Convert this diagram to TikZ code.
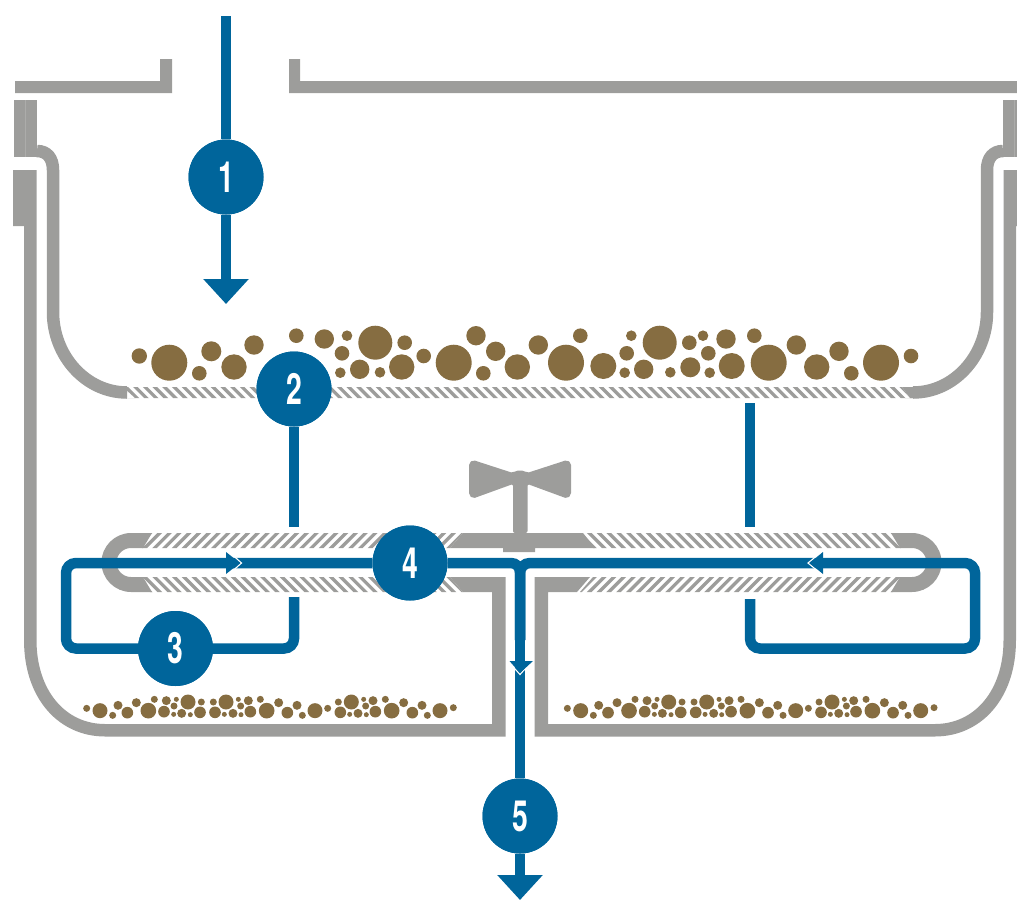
\documentclass[tikz,border=0pt]{standalone}
\usepackage{fontspec}
\usepackage{graphicx}
\setmainfont{TeX Gyre Heros}
\usetikzlibrary{arrows.meta}
\definecolor{flowblue}{HTML}{00659B}
\definecolor{shellgray}{HTML}{9D9D9B}
\definecolor{grainbrown}{HTML}{866D41}
\tikzset{
  shell/.style={fill=shellgray,draw=none},
  shellline/.style={draw=shellgray,line width=12.5pt,line cap=butt},
  stripe/.style={draw=shellgray,line width=3.3pt},
  flow/.style={draw=flowblue,line width=10.5pt,line cap=butt},
  bigtip/.style={-{Triangle[length=25pt,width=44pt]}},
  numdot/.style={circle,fill=flowblue,text=white,minimum size=75pt,inner sep=0pt,
    font=\fontsize{43}{43}\selectfont\bfseries},
  grain/.style={fill=grainbrown,draw=none},
  chevron/.style={draw=white,line width=1.1pt,line cap=butt,line join=miter},
  headfill/.style={fill=flowblue,draw=none}
}
\newcommand{\slimdigit}[1]{\scalebox{0.66}[1]{#1}}
\def\grainlist{139.3/356/7.7,169.3/362.7/18,199.3/373.3/7.3,211.3/351.3/10,234/367/12.7,254/345/9.7,
296.3/335.7/7.3,324.3/339/9.7,347/335.7/5.3,342/353.3/7.3,340.3/372.7/5.3,359.7/369.3/9.7,375.3/342.7/17,
404.7/342.7/7.3,380/372.3/5.3,401.7/367/12.7,423.7/356/7.3,453.7/362.7/18,483.3/373.3/7.3,476/335.7/9.7,
495.7/351.3/9.7,517.3/367/12.7,538.3/345/9.7,580.3/335.7/7.3,566/362.7/18,603.3/366/13,631.3/335.7/5.3,
626.7/353.3/7.3,624.7/372.7/5.3,643.7/369.3/9.7,659.7/342.7/17,689.3/342.7/7.3,703/335.7/5.3,726/339/9.7,
754.3/335.7/7.3,708.3/353.3/7.3,670.3/372.3/5.3,690.3/367.3/10,709.7/372.7/5.3,731.7/366/13,768.7/362.7/18,
796.3/345/9.7,816.7/367/12.7,839/351.3/9.7,851.3/373.3/7.3,881/362.7/18,911/356/7.3}
\def\sandlist{50/85/9,90/92/21,128/106/9,144/76/12,172/98/16,199/68/12,235/92/22,253/58/9,282/95/16,289/62/12,
319/58/6,312/78/9,311/103/6,335/100/12,354/66/21,361/104/6,394/66/9,390/97/16,430/66/9,435/97/16,463/103/6,
468/66/21,489/100/12,505/58/6,512/78/9,513/104/6,535/62/12,541/95/16,571/58/9,590/92/22,626/68/12,652/98/16,
681/76/12,697/106/9,735/92/21,773/85/9,805/66/9,811/97/16,839/103/6,844/66/21,864/100/12,881/58/6,887/78/9,
889/104/6,909/62/12,916/95/16,946/58/9,965/92/22,1001/68/12,1027/98/16,1056/76/12,1072/106/9,1110/92/21,1150/83/9}
\newcommand{\halfshell}{%
  \fill[shell] (14,100) rectangle (37,157);
  \draw[shellgray!85!white,line width=0.7pt] (25.5,100) -- (25.5,157);
  \draw[shellline] (37,151) .. controls (47,151) and (53,158) .. (53,170) -- (53,312)
     .. controls (53,356) and (86,392.5) .. (127,392.5);
  \fill[shell] (123,387) -- (127,387) -- (127,398) -- (135,398) -- (123,398) -- cycle;
  \fill[shell] (450,577) -- (505.5,577) -- (505.5,736.5) -- (105,736.5)
     .. controls (60,736.5) and (24,700) .. (24,640) -- (24,226) -- (13,226) -- (13,170) -- (36.5,170) -- (36.5,640)
     .. controls (36.5,690) and (65,724) .. (105,724) -- (492,724) -- (492,592) -- (463,592) -- cycle;
}
\newcommand{\halfspreader}{%
  \fill[shell] (152,533) -- (131,533) .. controls (115,533) and (101.5,546) .. (101.5,562.5)
     .. controls (101.5,579) and (115,592) .. (131,592) -- (152,592) -- (143,577) -- (131,577)
     .. controls (123,577) and (116.5,570.5) .. (116.5,562.5) .. controls (116.5,554.5) and (123,548) .. (131,548)
     -- (143,548) -- cycle;
  \begin{scope}
    \clip (150,533) -- (463,533) -- (450,548) -- (142,548) -- cycle;
    \foreach \s in {0,...,34} {\draw[stripe] ({135+9.8*\s+17},531) -- ({135+9.8*\s-2},550);}
  \end{scope}
  \begin{scope}
    \clip (142,577) -- (450,577) -- (463,592) -- (150,592) -- cycle;
    \foreach \s in {0,...,34} {\draw[stripe] ({135+9.8*\s-2},575) -- ({135+9.8*\s+17},594);}
  \end{scope}
}
\begin{document}
\begin{tikzpicture}[x=1pt,y=-1pt]
\useasboundingbox (0,0) rectangle (1017,900);
\clip (0,0) rectangle (1017,900);
% lid
\fill[shell] (15,81) -- (160,81) -- (160,59) -- (172,59) -- (172,93) -- (15,93) -- cycle;
\fill[shell] (289,59) -- (300,59) -- (300,81) -- (1017,81) -- (1017,93) -- (289,93) -- cycle;
% both halves of the vessel
\halfshell
\begin{scope}[shift={(1040,0)},xscale=-1]
  \halfshell
\end{scope}
\halfspreader
\begin{scope}[shift={(1043,0)},xscale=-1]
  \halfspreader
\end{scope}
% hatched basket floor
\begin{scope}
  \clip (123,387) -- (902,387) -- (910,398) -- (135,398) -- cycle;
  \foreach \s in {0,...,82} {\draw[stripe] ({116+9.7*\s-2},385) -- ({116+9.7*\s+13},400);}
\end{scope}
\fill[shell] (902,387) -- (913,387) -- (913,398) -- (910,398) -- cycle;
% valve
\fill[shell] (463,533) -- (583,533) -- (595,548) -- (535,548) -- (535,552) -- (503,552) -- (503,548) -- (450,548) -- cycle;
\fill[shell,rounded corners=2pt] (513,533) -- (513,484) -- (473,498.5) -- (469,495) -- (469,463) -- (473,460) -- (513,473)
   -- (516,470.5) -- (524,470.5) -- (527,473) -- (567,460) -- (571,463) -- (571,495) -- (567,498.5) -- (527.5,484) -- (527.5,533) -- cycle;
% grains
\foreach \x/\y/\r in \grainlist {\fill[grain] (\x,\y) circle[radius=\r];}
\foreach \dx in {0,480.7} {
  \foreach \x/\y/\r in \sandlist {
    \fill[grain] ({70+\dx+\x/3},{680+\y/3}) circle[radius={\r/3+0.5}];
  }
}
% flow: named points
\coordinate (inflow) at (226,16);
\coordinate (drop) at (226,304);
\coordinate (leftdown) at (294,527);
\coordinate (leftgap) at (294,597);
\coordinate (leftbl) at (294,648.5);
\coordinate (leftfar) at (66,648.5);
\coordinate (leftup) at (66,563);
\coordinate (tee) at (520,563);
\coordinate (stem) at (520,640);
\coordinate (rightstart) at (750,403);
\coordinate (rightdown) at (750,527);
\coordinate (rightgap) at (750,599);
\coordinate (rightbl) at (750,648.5);
\coordinate (rightfar) at (975,648.5);
\coordinate (rightup) at (975,563);
\coordinate (outflow) at (520,900);
\node[numdot] (n1) at (226,177) {\slimdigit{1}};
\node[numdot] (n2) at (294,389) {\slimdigit{2}};
\node[numdot] (n3) at (175.5,648.5) {\slimdigit{3}};
\node[numdot] (n4) at (410,563) {\slimdigit{4}};
\node[numdot] (n5) at (520,816) {\slimdigit{5}};
\draw[flow] (inflow) -- (n1);
\draw[flow,bigtip] (n1) -- (drop);
\draw[flow] (n2) -- (leftdown);
\draw[flow] (rightstart) -- (rightdown);
\draw[flow,rounded corners=10pt] (leftgap) -- (leftbl) -- (leftfar) -- (leftup) -- (n4);
\draw[flow,rounded corners=10pt] (rightgap) -- (rightbl) -- (rightfar) -- (rightup) -- (tee) -- (stem);
\draw[flow,rounded corners=9pt] (n4) -- (tee) -- (stem);
\draw[flow] (stem) -- (n5);
\draw[flow,bigtip] (n5) -- (outflow);
% small direction heads
\draw[chevron] (227,550) -- (241.5,563) -- (227,576);
\fill[headfill] (226,552) -- (240,563) -- (226,574) -- cycle;
\draw[chevron] (824,550) -- (808,563) -- (824,576);
\fill[headfill] (823,552) -- (809.5,563) -- (823,574) -- cycle;
\draw[chevron] (508,661) -- (520,674.5) -- (532,661);
\fill[headfill] (509.5,661) -- (520,673) -- (533,661) -- cycle;
% number discs over the lines
\node[numdot] at (n1) {\slimdigit{1}};
\node[numdot] at (n2) {\slimdigit{2}};
\node[numdot] at (n3) {\slimdigit{3}};
\node[numdot] at (n4) {\slimdigit{4}};
\node[numdot] at (n5) {\slimdigit{5}};
\end{tikzpicture}
\end{document}
